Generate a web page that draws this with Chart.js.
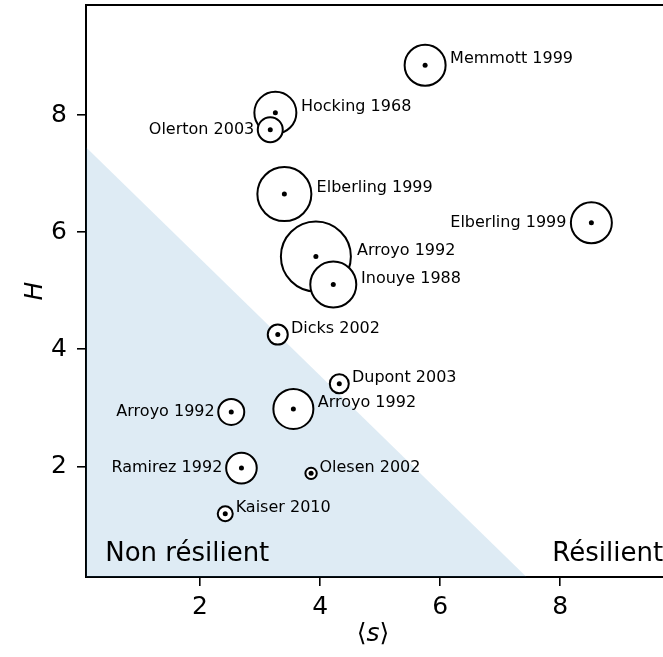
<!DOCTYPE html>
<html>
<head>
<meta charset="utf-8">
<script src="https://cdn.jsdelivr.net/npm/chart.js@4"></script>
<style>
    html, body { margin: 0; padding: 0; background: #fff; overflow: hidden; }
</style>
</head>
<body>
<canvas id="resilienceChart" width="665" height="657"></canvas>
<script>
// one entry per study (drawing order matters: later circles cover earlier ones)
const studies = ["Memmott 1999", "Hocking 1968", "Olerton 2003", "Elberling 1999", "Elberling 1999",
    "Arroyo 1992", "Inouye 1988", "Dicks 2002", "Dupont 2003", "Arroyo 1992",
    "Arroyo 1992", "Ramirez 1992", "Olesen 2002", "Kaiser 2010"];
const meanS = [5.75, 3.255, 3.17, 3.405, 8.52, 3.93, 4.22, 3.295, 4.32, 3.555, 2.52, 2.69, 3.85, 2.42];
const H = [8.85, 8.04, 7.75, 6.65, 6.16, 5.585, 5.107, 4.25, 3.41, 2.98, 2.93, 1.97, 1.88, 1.19];
const bubbleR = [20.5, 21, 12.5, 27, 20.5, 35, 23, 10, 9.5, 20, 13, 15.3, 5.7, 7.5];
const labelSide = ["r", "r", "l", "r", "l", "r", "r", "r", "r", "r", "l", "l", "r", "r"];
const xTicks = [2, 4, 6, 8];
const yTicks = [2, 4, 6, 8];
const threshold = 7.55; // boundary  <s> + H = threshold

const FONT = "'DejaVu Sans', sans-serif";

const annotations = {
    id: "annotations",
    afterDatasetsDraw(chart) {
        const { ctx, chartArea, scales } = chart;
        const xs = scales.x, ys = scales.y;
        ctx.save();
        // top spine
        ctx.strokeStyle = "#000";
        ctx.lineWidth = 2;
        ctx.beginPath();
        ctx.moveTo(chartArea.left - 1, chartArea.top);
        ctx.lineTo(chartArea.right + 1, chartArea.top);
        ctx.stroke();

        // study labels
        ctx.fillStyle = "#000";
        ctx.font = "16px " + FONT;
        ctx.textBaseline = "middle";
        studies.forEach((name, i) => {
            const px = xs.getPixelForValue(meanS[i]);
            const py = ys.getPixelForValue(H[i]);
            const r = bubbleR[i];
            const gap = 2 + 0.12 * r;
            if (labelSide[i] === "r") {
                ctx.textAlign = "left";
                ctx.fillText(name, px + r + gap, py - 6);
            } else {
                ctx.textAlign = "right";
                ctx.fillText(name, px - r - gap, py);
            }
        });

        // region names
        ctx.font = "26px " + FONT;
        ctx.textAlign = "left";
        ctx.textBaseline = "alphabetic";
        ctx.fillText("Non résilient", xs.getPixelForValue(0.42), ys.getPixelForValue(0.38));
        ctx.fillText("Résilient", xs.getPixelForValue(7.87), ys.getPixelForValue(0.38));

        // axis titles
        ctx.textBaseline = "middle";
        ctx.save();
        ctx.translate(35, (chartArea.top + chartArea.bottom) / 2);
        ctx.rotate(-Math.PI / 2);
        ctx.textAlign = "center";
        ctx.font = "italic 25px " + FONT;
        ctx.fillText("H", 0, 0);
        ctx.restore();

        const parts = [["⟨", "25px "], ["s", "italic 25px "], ["⟩", "25px "]];
        let total = 0;
        parts.forEach(p => { ctx.font = p[1] + FONT; total += ctx.measureText(p[0]).width; });
        let tx = (chartArea.left + chartArea.right) / 2 - 2 - total / 2;
        ctx.textAlign = "left";
        parts.forEach(p => {
            ctx.font = p[1] + FONT;
            ctx.fillText(p[0], tx, 634);
            tx += ctx.measureText(p[0]).width;
        });
        ctx.restore();
    }
};

const axisStyle = {
    border: { display: true, color: "#000", width: 2 },
    grid: { display: true, drawOnChartArea: false, drawTicks: true, tickLength: 9, color: "#000", lineWidth: 1.6 },
};

const ctx = document.getElementById("resilienceChart").getContext("2d");
new Chart(ctx, {
    type: "bubble",
    data: {
        datasets: [
            {
                type: "line",
                data: [{ x: 0, y: threshold }, { x: threshold, y: 0 }],
                fill: "origin",
                backgroundColor: "rgba(31, 119, 180, 0.15)",
                borderWidth: 0,
                pointRadius: 0,
                order: 3,
            },
            {
                data: meanS.map((x, i) => ({ x: x, y: H[i], r: bubbleR[i] })),
                backgroundColor: "#fff",
                borderColor: "#000",
                borderWidth: 2,
                order: 2,
            },
            {
                type: "scatter",
                data: meanS.map((x, i) => ({ x: x, y: H[i] })),
                backgroundColor: "#000",
                borderWidth: 0,
                pointRadius: 2.5,
                order: 1,
            },
        ],
    },
    options: {
        responsive: false,
        animation: false,
        events: [],
        layout: { autoPadding: false, padding: { top: 5, right: 1, bottom: 0, left: 0 } },
        plugins: { legend: { display: false }, tooltip: { enabled: false } },
        scales: {
            x: {
                type: "linear",
                min: 0.1,
                max: 9.73,
                ...axisStyle,
                afterBuildTicks: (s) => { s.ticks = xTicks.map(v => ({ value: v })); },
                afterFit: (s) => { s.height = 80; s.paddingLeft = 0; s.paddingRight = 0; },
                ticks: { color: "#000", padding: 6, font: { family: FONT, size: 25 } },
            },
            y: {
                type: "linear",
                min: 0.11,
                max: 9.88,
                ...axisStyle,
                afterBuildTicks: (s) => { s.ticks = yTicks.map(v => ({ value: v })); },
                afterFit: (s) => { s.width = 86; s.paddingTop = 0; s.paddingBottom = 0; },
                ticks: { color: "#000", padding: 10, font: { family: FONT, size: 25 } },
            },
        },
    },
    plugins: [annotations],
});
</script>
</body>
</html>
